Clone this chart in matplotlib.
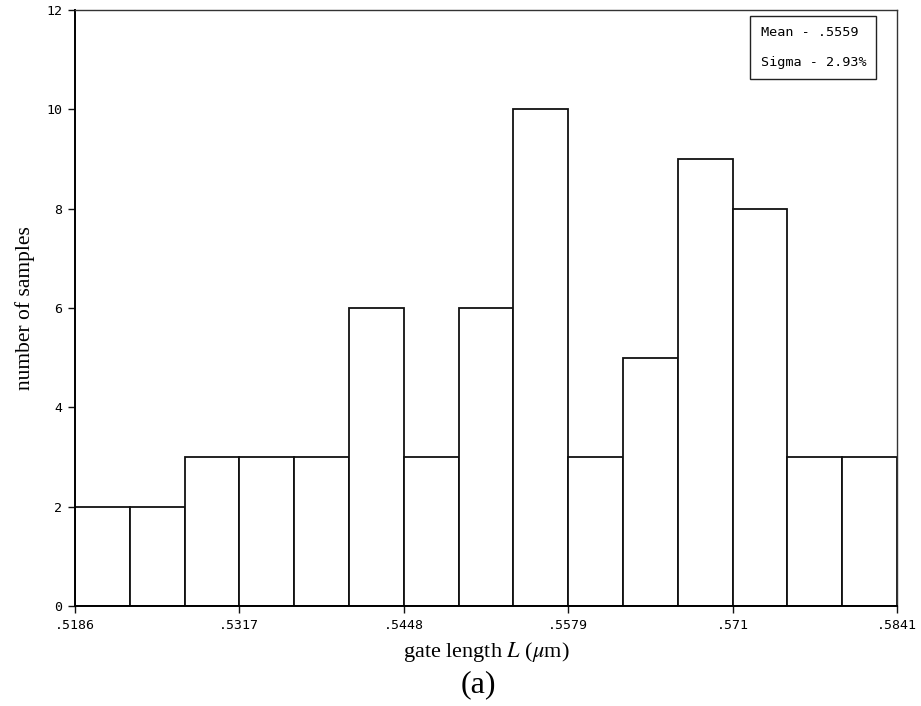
# Histogram of measured gate lengths
import matplotlib.pyplot as plt
import numpy as np

# Bin edges and sample counts per bin
x_min = 0.5186
x_max = 0.5841
counts = [2, 2, 3, 3, 3, 6, 3, 6, 10, 3, 5, 9, 8, 3, 3]
tick_values = [0.5186, 0.5317, 0.5448, 0.5579, 0.571, 0.5841]
tick_labels = ['.5186', '.5317', '.5448', '.5579', '.571', '.5841']
y_ticks = [0, 2, 4, 6, 8, 10, 12]
mean_text = 'Mean - .5559'
sigma_text = 'Sigma - 2.93%'

edges = np.linspace(x_min, x_max, len(counts) + 1)
widths = np.diff(edges)

plt.rcParams['mathtext.fontset'] = 'stix'

fig = plt.figure(figsize=(9.21, 7.06), dpi=100)
ax = fig.add_axes([0.0814, 0.1416, 0.8925, 0.8442])

ax.bar(edges[:-1], counts, width=widths, align='edge',
       facecolor='white', edgecolor='#111111', linewidth=1.3)

ax.set_xlim(x_min, x_max)
ax.set_ylim(0, 12)
ax.set_xticks(tick_values)
ax.set_xticklabels(tick_labels)
ax.set_yticks(y_ticks)
ax.set_yticklabels([str(v) for v in y_ticks])

mono = 'DejaVu Sans Mono'
for lbl in ax.get_xticklabels() + ax.get_yticklabels():
    lbl.set_fontfamily(mono)
    lbl.set_fontsize(9.5)

ax.tick_params(direction='out', length=5, width=1, color='#111111', pad=4)
for side in ['left', 'bottom']:
    ax.spines[side].set_linewidth(1.4)
for side in ['top', 'right']:
    ax.spines[side].set_linewidth(1.0)
    ax.spines[side].set_color('#333333')

ax.set_ylabel('number of samples', family='Liberation Serif', fontsize=15.5, labelpad=8)
ax.set_xlabel(r'gate length $L$ ($\mu$m)', family='Liberation Serif', fontsize=16, labelpad=6)

# Statistics box in the upper right corner
ax.text(0.834, 0.973, mean_text + '\n\n' + sigma_text, transform=ax.transAxes,
        ha='left', va='top', family=mono, fontsize=9.7, linespacing=1.2,
        bbox=dict(boxstyle='square,pad=0.75', facecolor='white', edgecolor='#222222', linewidth=1.0))

fig.text(0.5195, 0.0297, '(a)', family='Liberation Serif', fontsize=23, ha='center', va='center')

plt.savefig('out.png', dpi=100)
